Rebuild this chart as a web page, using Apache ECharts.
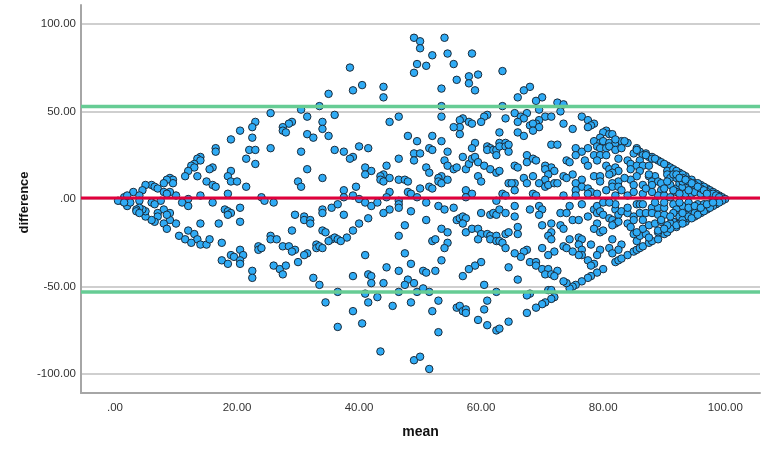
<!DOCTYPE html>
<html><head><meta charset="utf-8">
<style>html,body{margin:0;padding:0;background:#fff}#c{width:768px;height:451px}</style>
<script src="https://cdn.jsdelivr.net/npm/echarts@6/dist/echarts.min.js"></script>
</head><body><div id="c"></div>
<script>
const xTicks=[0,20,40,60,80,100];
const yTicks=[-100,-50,0,50,100];
const upperLimit=52.8, lowerLimit=-53, meanDifference=0.5;
const leftPoints=[[23,44],[22.5,41],[20.5,39],[19,34],[22.5,35],[22,28],[23,28],[16.5,29],[16.5,27],[21.5,23],[23,20],[14,24],[13.5,23],[14,22],[13,20],[12.5,19],[13,18],[12,16],[11.5,13],[13.5,13],[16,18],[15.5,17],[19,16],[18.5,13],[19,10],[20,10],[15,10],[16,8],[16.5,7],[21.5,7],[18.5,3],[14,2],[10,2],[9,12],[9.5,11],[9.5,9],[8.5,11],[8,9],[6,8],[6.5,7],[7,6],[5,8],[4.5,5],[3,4],[9,4],[8,4],[8.5,3],[12,0],[11,-2],[12,-4],[16,-2],[7.5,-1],[6,-2],[6.5,-3],[4,2],[4,-1],[20.5,-5],[18,-6],[18.5,-7],[19,-8],[18.5,-9],[20.5,-13],[17,-14],[14,-14],[10,-14],[9,-12],[9,-8],[8,-6],[7,-8],[7,-10],[8.5,-9],[8,-14],[6.5,-13],[6,-12],[5,-10],[5,-7],[4.5,-6],[4,-5],[3.5,-6],[3.5,-7],[4,-8],[2,-4],[2.5,-2],[1.5,1],[1,-1],[0.5,-1],[1.5,-2],[2,2],[8.5,-17],[10.5,-21],[11.5,-23],[12,-18],[13,-20],[13.5,-23],[12.5,-25],[14,-26],[15,-26],[15.5,-23],[17.5,-25],[19,-32],[19.5,-33],[20.5,-29],[21,-32],[20.5,-35],[20.5,-37],[17.5,-35],[18.5,-37],[22.5,-41],[22.5,-45],[23.5,-27],[23.5,-29]];
const centerUpper=[[49,92],[50,90],[54,92],[50,86],[52,82],[54.5,83],[58.5,83],[38.5,75],[49.5,77],[51,76],[55.5,77],[49,72],[63.5,73],[58,70],[59.5,71],[56,68],[58,66],[40.5,65],[39,62],[44,64],[35,60],[44,58],[53.5,63],[59,62],[33.5,53],[53.5,53],[63.5,53],[30.5,51],[25.5,49],[31.5,47],[36,48],[46.5,47],[45,44],[53.5,47],[61,48],[60.5,47],[60,44],[64,46],[57,46],[56.5,45],[58,44],[58.5,43],[56.5,41],[55.5,41],[56.5,37],[63,38],[29,44],[28.5,43],[27.5,41],[27.5,39],[28,38],[34,44],[34,40],[31.5,37],[32.5,35],[35,36],[48,36],[52,36],[49.5,33],[53.5,33],[59,32],[58.5,29],[63,32],[64,32],[61,30],[61.5,29],[61,28],[62,28],[62.5,28],[63,30],[64,30],[64.5,27],[62.5,25],[25.5,29],[30.5,27],[36,28],[37.5,27],[40,30],[41.5,29],[51.5,29],[52,28],[49,26],[50,26],[54.5,27],[57,24],[49,22],[46.5,23],[39,24],[38.5,23],[54,22],[54.5,19],[55.5,17],[56,18],[57.5,17],[58,20],[58.5,23],[59,24],[59.5,21],[60.5,19],[61.5,17],[62.5,15],[63,16],[41,18],[42,16],[41,14],[44.5,19],[51,18],[51.5,15],[31.5,17],[34,12],[44,14],[43.5,13],[43.5,11],[44,10],[45,12],[46.5,11],[47.5,11],[48,10],[53.5,13],[53,12],[53,10],[53.5,9],[54.5,11],[59.5,13],[60,10],[64.5,9],[30,10],[30.5,7],[39.5,7],[37.5,5],[37.5,1],[39,2],[40,0],[45,4],[44.5,1],[48,4],[48.5,3],[49.5,1],[50,6],[51.5,7],[52,6],[57.5,5],[58.5,3],[57.5,1],[63.5,3],[64,2],[24,1]];
const centerLower=[[24.5,-1],[26,-2],[34,-6],[34,-8],[35.5,-5],[36.5,-3],[37.5,-9],[29.5,-9],[31,-10],[31,-12],[32,-12],[32,-14],[41,-2],[42,-4],[43,-2],[46.5,-1],[46.5,-3],[46.5,-5],[45,-6],[44,-8],[48.5,-7],[51,-2],[53,-4],[54,-6],[55.5,-5],[51,-12],[47.5,-15],[46.5,-21],[41.5,-11],[40,-14],[39,-18],[38,-22],[29,-18],[34,-18],[34.5,-19],[25.5,-21],[25.5,-23],[26.5,-23],[35.5,-23],[36,-22],[36.5,-23],[37,-24],[35,-24],[24,-28],[27.5,-27],[28.5,-27],[29.5,-29],[29,-30],[33,-26],[33,-28],[33.5,-27],[34,-28],[31.5,-31],[31,-32],[30,-36],[26,-38],[27,-40],[28,-38],[27.5,-43],[32.5,-45],[33.5,-49],[39,-44],[41.5,-43],[42,-44],[42,-48],[44,-48],[44.5,-39],[46.5,-41],[48.5,-37],[47.5,-31],[41,-32],[48,-46],[47.5,-49],[49,-48],[50.5,-41],[51,-42],[52.5,-41],[53.5,-35],[52,-24],[52.5,-23],[54.5,-25],[54,-28],[53.5,-17],[54.5,-19],[56,-12],[56.5,-11],[57,-10],[57.5,-11],[57,-14],[57.5,-19],[58.5,-17],[59.5,-17],[60,-20],[59.5,-23],[61,-20],[61.5,-21],[61.5,-23],[62.5,-21],[62.5,-24],[63,-24],[63.5,-25],[64,-28],[64,-20],[64.5,-19],[60,-36],[59,-38],[58,-40],[57,-44],[60.5,-49],[64.5,-39],[60,-8],[61.5,-9],[62,-8],[62.5,-9],[63,-6],[64,-8],[62.5,-1],[36.5,-53],[41,-54],[46.5,-53],[49.5,-53],[50.5,-51],[51.5,-53],[62.5,-53],[34.5,-59],[39,-64],[41.5,-59],[43,-56],[45.5,-61],[48.5,-59],[53,-58],[52,-64],[56,-62],[56.5,-61],[57,-64],[57.5,-63],[57.5,-65],[61,-58],[60.5,-63],[59.5,-69],[61,-72],[62.5,-75],[63,-74],[64.5,-70],[36.5,-73],[40.5,-71],[53,-76],[43.5,-87],[49,-92],[50,-90],[51.5,-97]];
const rightUpper=[[68,64],[67,62],[66,58],[70,58],[69,56],[72.5,55],[73.5,54],[73,50],[69.5,51],[65.5,49],[67.5,49],[66.5,47],[67,46],[70.5,47],[71.5,47],[69.5,45],[66,44],[69,43],[68,42],[68.5,43],[69.5,41],[68.5,39],[66,38],[67,36],[73.5,43],[75,40],[76.5,47],[77.5,45],[78.5,43],[78,42],[77.5,41],[71.5,31],[72.5,31],[80.5,39],[80,38],[81,37],[79.5,35],[81.5,37],[78.5,33],[79.5,32],[80,33],[81,32],[82,32],[83,33],[84,32],[83.5,33],[82,34],[79,30],[79.5,29],[80.5,29],[81,30],[82,28],[83,29],[75.5,29],[76.5,27],[75.5,25],[77.5,29],[78.5,25],[79.5,25],[80.5,25],[77,22],[77.5,19],[79,22],[85.5,29],[85,26],[86,27],[87,26],[86.5,25],[87.5,24],[88,24],[89,22],[82.5,23],[84,22],[86,22],[84.5,20],[85.5,19],[86.5,19],[87.5,19],[84.5,17],[86,16],[80.5,19],[81,17],[82,18],[82.5,16],[81.5,15],[81,14],[90.5,19],[91,18],[90.5,16],[90.5,14],[92.5,15],[93.5,13],[94,11],[94.5,11],[91,8],[92,6],[92.5,9],[93.5,9],[93,7],[94.5,7],[95,9],[96,8],[97,6],[97.5,5],[98,4],[95.5,5],[99,2],[99.5,1],[100,0],[96.5,3],[93.5,3],[94.5,3],[92,4],[88.5,13],[87.5,13],[88,10],[89,10],[87.5,14],[88,8],[89.5,9],[85.5,13],[84.5,11],[85,8],[86.5,8],[86.5,3],[89.5,5],[89,2],[90,2],[91,1],[67.5,25],[67.5,21],[68.5,23],[69,22],[70.5,19],[71.5,18],[70.5,17],[72,16],[65.5,19],[66,18],[67,12],[67.5,9],[68.5,13],[71,14],[70.5,11],[69.5,9],[70.5,7],[71,8],[72,9],[72.5,9],[73.5,13],[75,14],[74,12],[76.5,11],[75.5,9],[76.5,7],[75.5,5],[77.5,6],[78,4],[78.5,13],[79.5,13],[79.5,10],[82.5,10],[81.5,9],[81.5,7],[80.5,5],[82.5,7],[79,3],[77.5,3],[75.5,2],[68.5,3],[69,2],[65.5,9],[65.5,5],[65,9],[84,2],[82,2],[73.5,2],[74,22],[74.5,21],[64.5,31],[91.5,17],[92,16],[93,14],[95.5,9],[96.5,7],[98.5,3],[91,12],[92,12],[93,10],[94,8],[91.5,5],[92.5,3],[95,4],[96,3],[97.5,2],[98,1],[94,5],[90.5,10],[90,6],[88,4],[87,6],[83,5],[83.5,12],[85,4],[85.5,28],[87,25],[88,23],[88.5,23],[89.5,21],[90,20],[93,12],[94,10],[95,8],[96,6],[97,4],[98,3],[91.5,14],[92,14],[92.5,12],[93.5,11],[94.5,9],[95.5,7],[96.5,5],[97,3],[98.5,2],[99,1]];
const rightLower=[[65.5,-4],[68,-6],[69.5,-4],[70,-6],[69.5,-9],[65.5,-10],[66,-16],[66,-20],[73,-8],[74,-8],[74.5,-4],[76.5,-3],[75,-12],[76,-12],[77.5,-10],[78.5,-6],[79,-4],[79,-8],[79.5,-7],[80,-9],[81,-11],[81.5,-12],[82,-6],[82.5,-9],[83,-7],[84,-8],[82,-14],[82.5,-13],[81.5,-15],[70,-15],[71.5,-14],[73,-15],[73.5,-17],[71.5,-19],[71,-21],[71.5,-23],[79,-14],[78.5,-17],[79.5,-19],[80,-18],[74.5,-23],[76,-22],[76.5,-23],[76,-26],[76.5,-29],[76.5,-32],[76,-32],[73.5,-27],[74,-28],[75,-30],[78,-26],[81.5,-23],[83,-26],[82.5,-29],[81,-28],[81.5,-31],[79.5,-29],[79,-32],[70,-28],[72,-30],[71,-32],[67.5,-29],[67,-30],[66.5,-33],[65.5,-31],[68,-36],[69,-36],[69,-38],[70,-40],[71,-40],[72.5,-41],[70.5,-43],[71.5,-43],[72,-44],[77.5,-35],[78.5,-37],[78,-38],[80,-40],[79,-42],[78,-44],[77.5,-45],[76.5,-47],[75.5,-49],[75,-50],[74.5,-51],[74,-48],[73.5,-47],[71,-52],[71.5,-52],[68,-54],[67.5,-55],[72,-56],[71.5,-57],[70.5,-59],[70,-60],[69,-62],[67.5,-65],[66,-46],[82,-36],[82.5,-35],[83,-34],[84,-32],[85,-30],[85.5,-29],[86,-28],[86.5,-27],[87.5,-25],[88,-24],[89,-23],[90,-20],[90.5,-19],[92,-16],[92.5,-14],[93.5,-13],[94,-11],[95,-10],[96,-8],[97,-6],[98.5,-3],[99.5,-1],[85.5,-24],[86,-21],[85,-20],[87,-20],[87.5,-22],[89,-19],[86.5,-17],[87.5,-15],[88.5,-14],[89.5,-13],[89,-18],[85.5,-19],[84,-14],[84.5,-16],[85,-10],[85,-12],[86,-8],[87,-8],[86.5,-12],[88,-5],[89,-5],[88,-8],[89,-9],[90,-9],[89.5,-12],[85.5,-3],[86,-3],[86.5,-3],[84,-5],[82,-3],[80,-2],[81,-2],[91.5,-3],[93,-4],[92,-6],[92.5,-9],[94,-7],[95,-6],[95.5,-3],[96.5,-3],[97.5,-3],[91.5,-13],[92.5,-10],[93.5,-9],[91.5,-8],[90,-5],[91,-14],[92.5,-2],[94,-2],[88.5,-2],[90,-2],[92,-15],[93,-12],[94,-10],[95,-8],[96,-7],[97,-5],[98,-4],[99,-2],[91,-17],[93,-14],[94.5,-11],[95.5,-9],[96.5,-7],[97.5,-5],[93,-8],[94,-5],[95,-4],[96,-5],[97,-3],[98,-2],[91,-10],[90.5,-15],[90,-17]];
const xMin=-5.57,xMax=105.7,yMin=-110.7,yMax=110.7;
const fmt=v=>v===0?'.00':v.toFixed(2);
const refLine=(v,color,w)=>({type:'line',data:[[xMin,v],[xMax,v]],symbol:'none',silent:true,z:5,animation:false,
  lineStyle:{color:color,width:w}});
const chart=echarts.init(document.getElementById('c'),null,{renderer:'canvas'});
chart.setOption({
  animation:false,backgroundColor:'#fff',
  grid:{left:81,right:8,top:5,bottom:58},
  xAxis:{type:'value',min:xMin,max:xMax,name:'mean',nameLocation:'middle',nameGap:32,
    nameTextStyle:{fontFamily:'Liberation Sans',fontWeight:'bold',fontSize:14,color:'#111'},
    axisLine:{show:true,onZero:false,lineStyle:{color:'#a6a6a6',width:2}},
    axisTick:{show:false,customValues:xTicks},splitLine:{show:false},
    axisLabel:{customValues:xTicks,formatter:fmt,fontFamily:'Liberation Sans',fontSize:11.5,color:'#333',margin:9}},
  yAxis:{type:'value',min:yMin,max:yMax,name:'difference',nameLocation:'middle',nameGap:50,nameMoveOverlap:false,
    nameTextStyle:{fontFamily:'Liberation Sans',fontWeight:'bold',fontSize:13,color:'#111',padding:[0,7,0,0]},
    axisLine:{show:true,onZero:false,lineStyle:{color:'#a6a6a6',width:2}},
    axisTick:{show:false,customValues:yTicks},
    splitLine:{show:true,lineStyle:{color:'#cfcfcf',width:2}},
    axisLabel:{customValues:yTicks,formatter:fmt,fontFamily:'Liberation Sans',fontSize:11.5,color:'#333',margin:5}},
  series:[
    {type:'scatter',data:[].concat(leftPoints,centerUpper,centerLower,rightUpper,rightLower),
     symbol:'circle',symbolSize:7.5,z:3,itemStyle:{color:'#2fabf5',borderColor:'#1b2b3a',borderWidth:1,opacity:1}},
    refLine(upperLimit,'#66cc94',3.5),
    refLine(lowerLimit,'#66cc94',3.5),
    refLine(meanDifference,'#e0003c',3)
  ]
});
</script></body></html>
